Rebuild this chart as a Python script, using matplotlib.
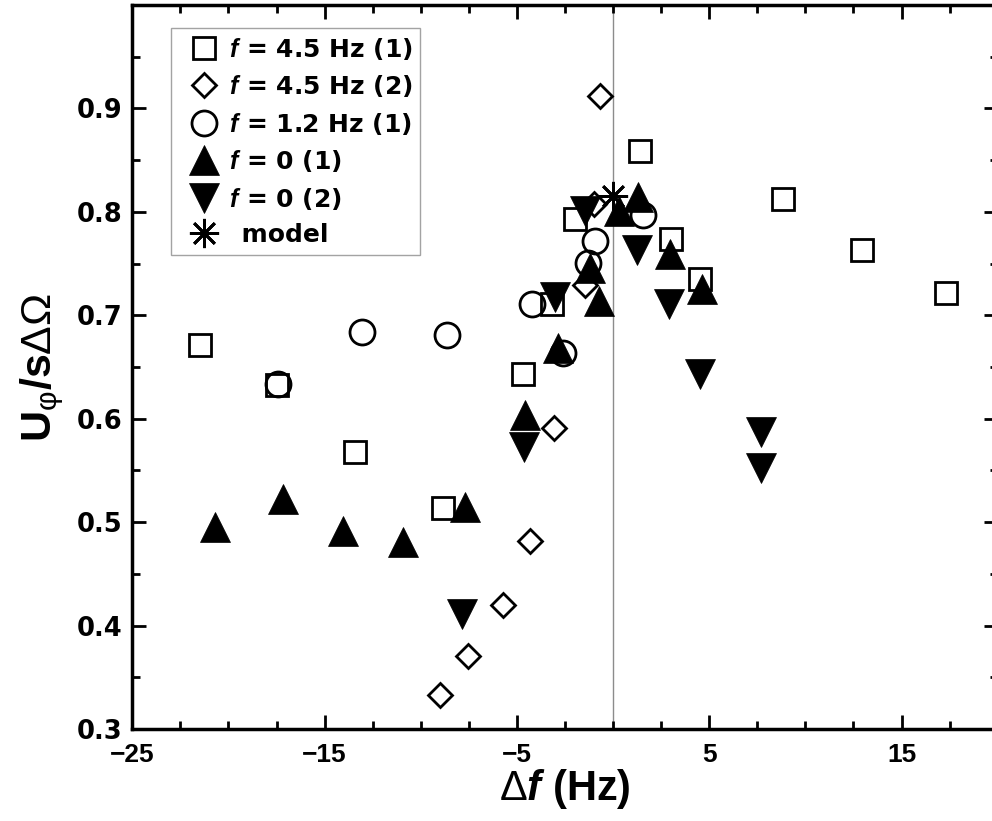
import numpy as np
import matplotlib.pyplot as plt
from matplotlib.ticker import MultipleLocator

# f = 4.5 Hz (1)
sq_x = [-21.5, -17.5, -13.4, -8.85, -4.7, -3.2, -2.0, 1.4, 3.0, 4.5, 8.85, 12.95, 17.3]
sq_y = [0.671, 0.633, 0.568, 0.514, 0.643, 0.711, 0.793, 0.859, 0.774, 0.735, 0.812, 0.763, 0.722]

# f = 4.5 Hz (2)
di_x = [-9.0, -7.55, -5.7, -4.3, -3.05, -1.45, -1.0, -0.68]
di_y = [0.333, 0.371, 0.420, 0.482, 0.591, 0.729, 0.808, 0.912]

# f = 1.2 Hz (1)
ci_x = [-17.4, -13.05, -8.65, -4.2, -2.6, -1.3, -0.95, 1.57]
ci_y = [0.634, 0.684, 0.681, 0.711, 0.664, 0.751, 0.772, 0.797]

# f = 0 (1)
up_x = [-20.7, -17.15, -14.05, -10.9, -7.7, -4.6, -2.85, -1.2, -0.75, 0.3, 1.3, 2.95, 4.6]
up_y = [0.495, 0.522, 0.491, 0.481, 0.515, 0.604, 0.668, 0.746, 0.714, 0.801, 0.814, 0.759, 0.725]

# f = 0 (2)
dn_x = [-7.85, -4.65, -3.0, -1.45, 1.25, 2.9, 4.5, 7.7, 7.7]
dn_y = [0.411, 0.573, 0.718, 0.801, 0.763, 0.711, 0.643, 0.587, 0.552]

# model
mod_x = [0.02]
mod_y = [0.815]

x_major = [-25, -15, -5, 5, 15]
y_major = [0.3, 0.4, 0.5, 0.6, 0.7, 0.8, 0.9]

plt.rcParams["font.family"] = ["Liberation Sans", "DejaVu Sans"]
plt.rcParams["mathtext.fontset"] = "custom"
plt.rcParams["mathtext.rm"] = "Liberation Sans:weight=normal"
plt.rcParams["mathtext.it"] = "Liberation Sans:italic:weight=normal"
plt.rcParams["mathtext.bf"] = "Liberation Sans:weight=bold"
plt.rcParams["mathtext.bfit"] = "Liberation Sans:italic:weight=bold"

fig = plt.figure(figsize=(9.92, 8.21), dpi=100)
ax = fig.add_axes([0.1334, 0.1121, 0.8723, 0.8818])

ax.axvline(0, color="#8c8c8c", lw=1, zorder=0.5)

hollow = dict(ls="none", mfc="none", mec="black", mew=2.0)
filled = dict(ls="none", color="black", mec="black", mew=0.5)

ax.plot(sq_x, sq_y, marker="s", ms=16, label=r"$\mathbfit{f}$ = 4.5 Hz (1)", **hollow)
ax.plot(di_x, di_y, marker="D", ms=12.5, label=r"$\mathbfit{f}$ = 4.5 Hz (2)", **hollow)
ax.plot(ci_x, ci_y, marker="o", ms=18, label=r"$\mathbfit{f}$ = 1.2 Hz (1)", **hollow)
ax.plot(up_x, up_y, marker="^", ms=21, label=r"$\mathbfit{f}$ = 0 (1)", **filled)
ax.plot(dn_x, dn_y, marker="v", ms=21, label=r"$\mathbfit{f}$ = 0 (2)", **filled)
ax.plot(mod_x, mod_y, ls="none", marker=(8, 2, 0), ms=21, mec="black", mew=2,
        label="\u2002model")

ax.set_xlim(-25, 20)
ax.set_ylim(0.3, 1.0)
ax.set_xticks(x_major)
ax.xaxis.set_minor_locator(MultipleLocator(2.5))
ax.set_yticks(y_major)
ax.yaxis.set_minor_locator(MultipleLocator(0.05))

ax.tick_params(which="both", direction="in", top=True, right=True, width=2)
ax.tick_params(which="major", length=10)
ax.tick_params(which="minor", length=6)
ax.tick_params(axis="x", labelsize=19, pad=10)
ax.tick_params(axis="y", labelsize=18.5, pad=7)
for lab in ax.get_xticklabels():
    lab.set_fontweight("bold")
for lab in ax.get_yticklabels():
    lab.set_fontweight("bold")
    lab.set_fontfamily("DejaVu Sans")

for sp in ax.spines.values():
    sp.set_linewidth(2.5)

ax.set_xlabel(r"$\Delta\mathbfit{f}\ \mathbf{(Hz)}$", fontsize=30, labelpad=0)
ax.set_ylabel(r"$\mathbf{U}_{\mathrm{\varphi}}\mathbf{/s}\Delta\Omega$", fontsize=31,
              labelpad=8)

leg = ax.legend(loc="upper left", bbox_to_anchor=(0.045, 0.968), borderaxespad=0,
                frameon=True, fancybox=False, edgecolor="#8c8c8c",
                prop={"family": "DejaVu Sans", "size": 18, "weight": "bold"},
                handlelength=2.0, handletextpad=0.0, labelspacing=0.46,
                borderpad=0.3)
leg.get_frame().set_linewidth(1)

fig.savefig("out.png", dpi=100)
